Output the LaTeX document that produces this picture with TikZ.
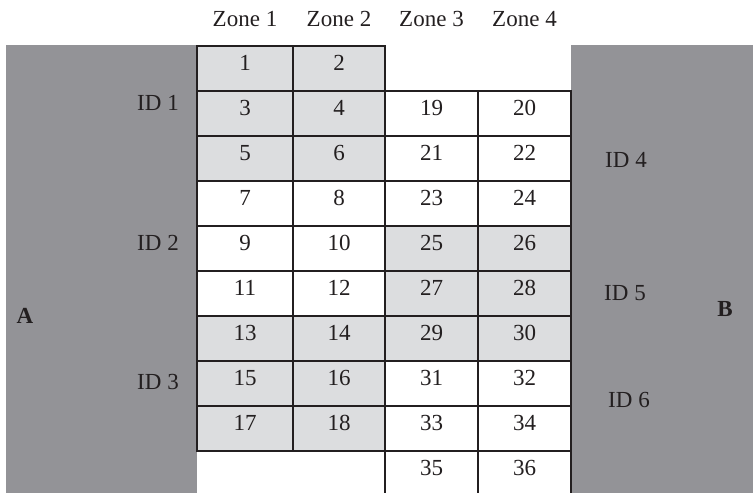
\documentclass[tikz,border=0pt]{standalone}
\usepackage{fontspec}
\setmainfont{Liberation Serif}
\definecolor{darkgr}{RGB}{147,147,151}
\definecolor{lightgr}{RGB}{220,221,223}
\definecolor{ink}{RGB}{35,31,32}
\begin{document}
\begin{tikzpicture}[x=1pt,y=-1pt,
  font=\fontsize{23}{27}\selectfont,
  cell/.style={draw=ink, line width=2.6pt, rectangle, inner sep=0pt, outer sep=0pt,
    anchor=north west, minimum height=45pt, text height=16pt, text depth=13pt, text=ink},
  block/.style={fill=darkgr, draw=none, rectangle, inner sep=0pt, outer sep=0pt, anchor=north west},
  lab/.style={anchor=base, inner sep=0pt, text=ink}]
\useasboundingbox (0,0) rectangle (753,493);
\clip (0,0) rectangle (753,493);
% side blocks
\node[block, minimum width=191pt, minimum height=448pt] (blockA) at (6,45) {};
\node[block, minimum width=182pt, minimum height=448pt] (blockB) at (571,45) {};
% cells
\foreach \r in {0,...,8}{
  \pgfmathtruncatemacro\na{2*\r+1}
  \pgfmathtruncatemacro\nb{2*\r+2}
  \pgfmathtruncatemacro\nc{2*\r+19}
  \pgfmathtruncatemacro\nd{2*\r+20}
  \ifnum\r<3 \def\fa{lightgr}\else\ifnum\r>5 \def\fa{lightgr}\else\def\fa{white}\fi\fi
  \ifnum\r>2 \ifnum\r<6 \def\fb{lightgr}\else\def\fb{white}\fi\else\def\fb{white}\fi
  \node[cell, fill=\fa, minimum width=96pt] (c\na) at (197,{46+45*\r}) {\na};
  \node[cell, fill=\fa, minimum width=92pt] (c\nb) at (293,{46+45*\r}) {\nb};
  \node[cell, fill=\fb, minimum width=93pt] (c\nc) at (385,{91+45*\r}) {\nc};
  \node[cell, fill=\fb, minimum width=93pt] (c\nd) at (478,{91+45*\r}) {\nd};
}
% zone headers
\node[lab] (z1) at (245,26) {Zone 1};
\node[lab] (z2) at (339,26) {Zone 2};
\node[lab] (z3) at (431.5,26) {Zone 3};
\node[lab] (z4) at (524.5,26) {Zone 4};
% ID labels
\node[lab] (id1) at (158,110) {ID 1};
\node[lab] (id2) at (158,250) {ID 2};
\node[lab] (id3) at (158,389) {ID 3};
\node[lab] (id4) at (626,167) {ID 4};
\node[lab] (id5) at (625,300) {ID 5};
\node[lab] (id6) at (629,407) {ID 6};
% A and B
\node[lab] (labA) at (25,323) {\textbf{A}};
\node[lab] (labB) at (725,316) {\textbf{B}};
\end{tikzpicture}
\end{document}
